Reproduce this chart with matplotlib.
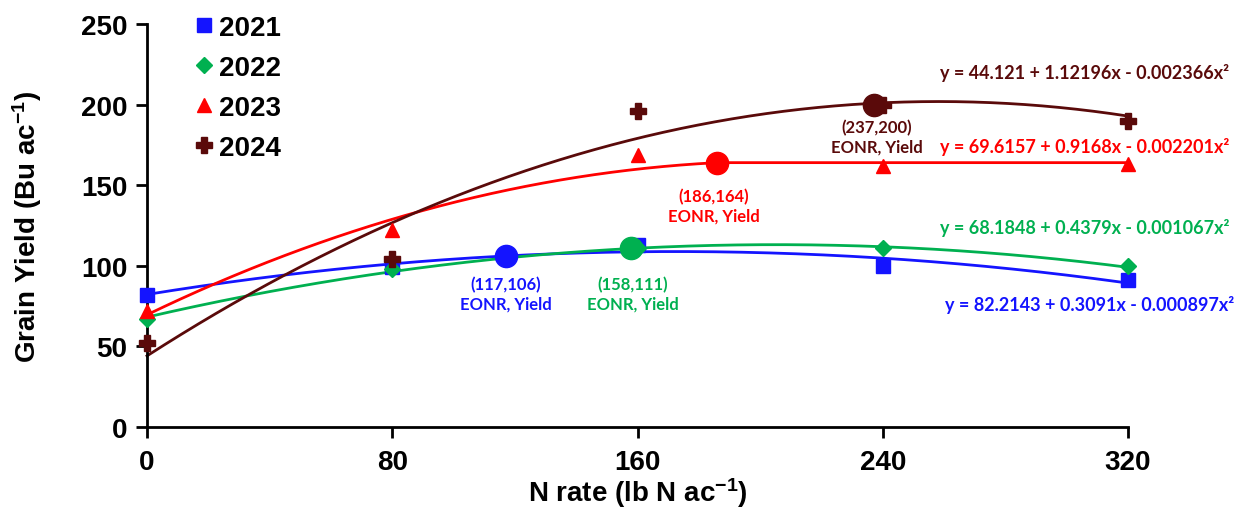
import numpy as np
import matplotlib
matplotlib.use("Agg")
import matplotlib.pyplot as plt

plt.rcParams["mathtext.fontset"] = "custom"
plt.rcParams["mathtext.rm"] = "Liberation Sans:bold"
plt.rcParams["mathtext.bf"] = "Liberation Sans:bold"
plt.rcParams["mathtext.it"] = "Liberation Sans:bold"

# ---- data ----
n_rate = [0, 80, 160, 240, 320]
years = ["2021", "2022", "2023", "2024"]
y2021 = [82, 99, 113, 100, 91]
y2022 = [67, 98, 111, 111, 100]
y2023 = [72, 122, 169, 162, 163]
y2024 = [52, 104, 196, 200, 190]

# fitted curve coefficients (a, b, c) for y = a + b x + c x^2
coef2021 = [82.2143, 0.3091, -0.000897]
coef2022 = [68.1848, 0.4379, -0.001067]
coef2023 = [69.6157, 0.9168, -0.002201]
coef2024 = [44.121, 1.22196, -0.002366]
plateau2023 = 186

eonr_x = [117, 158, 186, 237]
eonr_y = [106, 111, 164, 200]
eq_labels = [
    "y = 82.2143 + 0.3091x - 0.000897x²",
    "y = 68.1848 + 0.4379x - 0.001067x²",
    "y = 69.6157 + 0.9168x - 0.002201x²",
    "y = 44.121 + 1.12196x - 0.002366x²",
]
xticks = [0, 80, 160, 240, 320]
yticks = [0, 50, 100, 150, 200, 250]

colors = ["#1414FF", "#00B050", "#FF0000", "#5A0A0A"]
markers = ["s", "D", "^", "P"]
msizes = [10, 8, 10, 11]

fig = plt.figure(figsize=(12.45, 5.10), dpi=100)
ax = fig.add_axes([147/1245, 1-428/510, (1128-147)/1245, (428-25)/510])

xs = np.linspace(0, 320, 400)
def quad(c, x):
    return c[0] + c[1]*x + c[2]*x**2

curves = [quad(coef2021, xs), quad(coef2022, xs),
          np.where(xs <= plateau2023, quad(coef2023, xs), quad(coef2023, plateau2023)),
          quad(coef2024, xs)]
data = [y2021, y2022, y2023, y2024]

for i in range(4):
    ax.plot(xs, curves[i], color=colors[i], lw=2.0, zorder=2, clip_on=False)
for i in range(4):
    ax.plot(n_rate, data[i], linestyle="none", marker=markers[i], ms=msizes[i],
            color=colors[i], zorder=3, clip_on=False, label=years[i])
for i in range(4):
    ax.plot(eonr_x[i], eonr_y[i], marker="o", ms=16, color=colors[i], zorder=4,
            linestyle="none", clip_on=False)

ax.set_xlim(0, 320)
ax.set_ylim(0, 250)
ax.set_xticks(xticks)
ax.set_yticks(yticks)
for s in ["top", "right"]:
    ax.spines[s].set_visible(False)
for s in ["left", "bottom"]:
    ax.spines[s].set_linewidth(2.0)
ax.tick_params(axis="x", direction="out", length=8, width=2.0, pad=8)
ax.tick_params(axis="y", direction="out", length=8, width=2.0, pad=6)
for lab in ax.get_xticklabels() + ax.get_yticklabels():
    lab.set_fontfamily("Liberation Sans")
    lab.set_fontweight("bold")
    lab.set_fontsize(20)

ax.set_xlabel("N rate (lb N ac$^{-1}$)", fontsize=20, fontweight="bold",
              family="Liberation Sans", labelpad=0)
ax.set_ylabel("Grain Yield (Bu ac$^{-1}$)", fontsize=20, fontweight="bold",
              family="Liberation Sans", labelpad=27)

leg = ax.legend(loc="upper left", bbox_to_anchor=(0.035, 1.05), frameon=False,
                prop={"family": "Liberation Sans", "weight": "bold", "size": 20},
                handlelength=0.8, handletextpad=0.15, labelspacing=0.5, borderaxespad=0)

# equations
eq_pos_y = [76.5, 124, 174.5, 220]
eq_right = [354.5, 353, 353, 353]
for i in range(4):
    ax.text(eq_right[i], eq_pos_y[i], eq_labels[i], color=colors[i], ha="right", va="center",
            fontsize=13, fontweight="bold", family="Lato", clip_on=False)

# EONR annotations
ann_xy = [(117, 82.5), (158.5, 82.5), (185, 137), (238, 180)]
for i in range(4):
    ax.text(ann_xy[i][0], ann_xy[i][1], f"({eonr_x[i]},{eonr_y[i]})\nEONR, Yield",
            color=colors[i], ha="center", va="center", fontsize=12, fontweight="bold",
            family="Lato", linespacing=1.25)

fig.savefig("out.png", dpi=100)
